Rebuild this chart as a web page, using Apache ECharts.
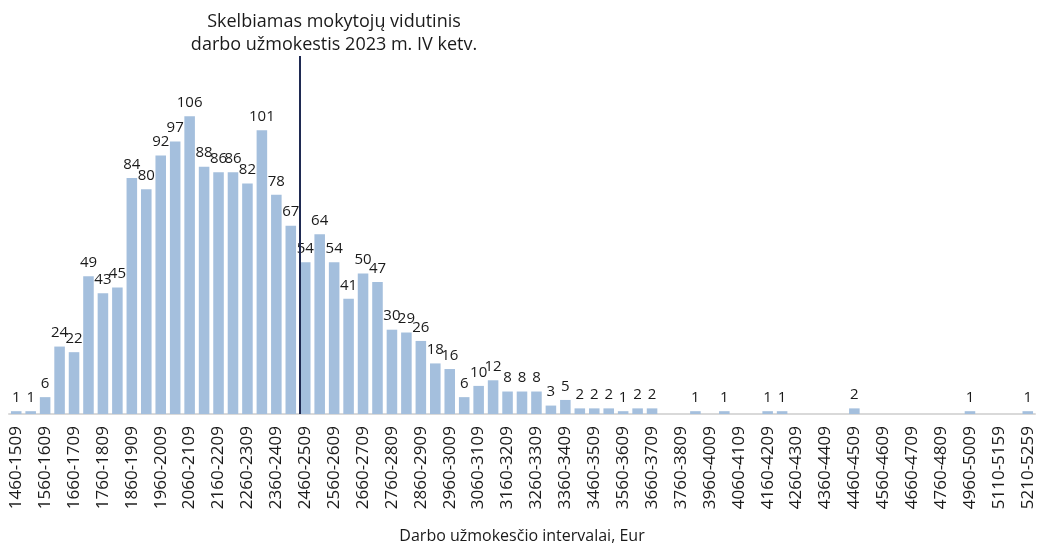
<!DOCTYPE html>
<html>
<head>
<meta charset="utf-8">
<script src="https://cdn.jsdelivr.net/npm/echarts@6/dist/echarts.min.js"></script>
<style>
html,body{margin:0;padding:0;background:#fff;}
#chart{width:1046px;height:546px;}
</style>
</head>
<body>
<div id="chart"></div>
<script>
const categories = [
 "1460-1509","1510-1559","1560-1609","1610-1659","1660-1709","1710-1759","1760-1809","1810-1859",
 "1860-1909","1910-1959","1960-2009","2010-2059","2060-2109","2110-2159","2160-2209","2210-2259",
 "2260-2309","2310-2359","2360-2409","2410-2459","2460-2509","2510-2559","2560-2609","2610-2659",
 "2660-2709","2710-2759","2760-2809","2810-2859","2860-2909","2910-2959","2960-3009","3010-3059",
 "3060-3109","3110-3159","3160-3209","3210-3259","3260-3309","3310-3359","3360-3409","3410-3459",
 "3460-3509","3510-3559","3560-3609","3610-3659","3660-3709","3710-3759","3760-3809","3810-3959",
 "3960-4009","4010-4059","4060-4109","4110-4159","4160-4209","4210-4259","4260-4309","4310-4359",
 "4360-4409","4410-4459","4460-4509","4510-4559","4560-4609","4610-4659","4660-4709","4710-4759",
 "4760-4809","4810-4959","4960-5009","5010-5109","5110-5159","5160-5209","5210-5259"
];
const counts = [
 1,1,6,24,22,49,43,45,
 84,80,92,97,106,88,86,86,
 82,101,78,67,54,64,54,41,
 50,47,30,29,26,18,16,6,
 10,12,8,8,8,3,5,2,
 2,2,1,2,2,0,0,1,
 0,1,0,0,1,1,0,0,
 0,0,2,0,0,0,0,0,
 0,0,1,0,0,0,1
];
const markerPosition = 19.6; // in category units (between 2410-2459 and 2460-2509)
const markerText = "Skelbiamas mokytojų vidutinis\ndarbo užmokestis 2023 m. IV ketv.";
const xAxisName = "Darbo užmokesčio intervalai, Eur";

const FONT = "'Open Sans', 'Noto Sans', sans-serif";
const chart = echarts.init(document.getElementById('chart'), null, {renderer:'canvas'});
chart.setOption({
  animation:false,
  grid:{left:9, right:11, top:56, bottom:132, containLabel:false, outerBoundsMode:'none'},
  xAxis:[{
    type:'category',
    data:categories,
    axisLine:{lineStyle:{color:'#d9d9d9', width:2}},
    axisTick:{show:false},
    axisLabel:{interval:1, rotate:90, fontSize:17, color:'#1a1a1a', fontFamily:FONT, margin:12},
    name:xAxisName,
    nameLocation:'middle',
    nameGap:114,
    nameTextStyle:{fontSize:16, color:'#1a1a1a', fontFamily:FONT}
  },{
    type:'value', show:false, min:-0.5, max:categories.length-0.5
  }],
  yAxis:{type:'value', show:false, min:0, max:127.4},
  series:[{
    type:'bar',
    data:counts,
    barCategoryGap:'27%',
    itemStyle:{color:'#a4bfdd'},
    label:{show:true, position:'top', distance:6, fontSize:15, color:'#1a1a1a', fontFamily:FONT,
      formatter:p=>p.value>0?String(p.value):''}
  },{
    type:'line',
    xAxisIndex:1,
    data:[],
    symbol:'none',
    markLine:{
      silent:true, symbol:'none',
      lineStyle:{color:'#1f2a52', width:2, type:'solid'},
      label:{show:false},
      data:[{xAxis:markerPosition}]
    }
  }],
  graphic:[{
    type:'text',
    left:334-170, top:10,
    style:{
      text:markerText, x:0, y:0, width:340,
      textAlign:'center', fontSize:18, lineHeight:23, fill:'#1a1a1a', fontFamily:FONT
    }
  }]
});
</script>
</body>
</html>
